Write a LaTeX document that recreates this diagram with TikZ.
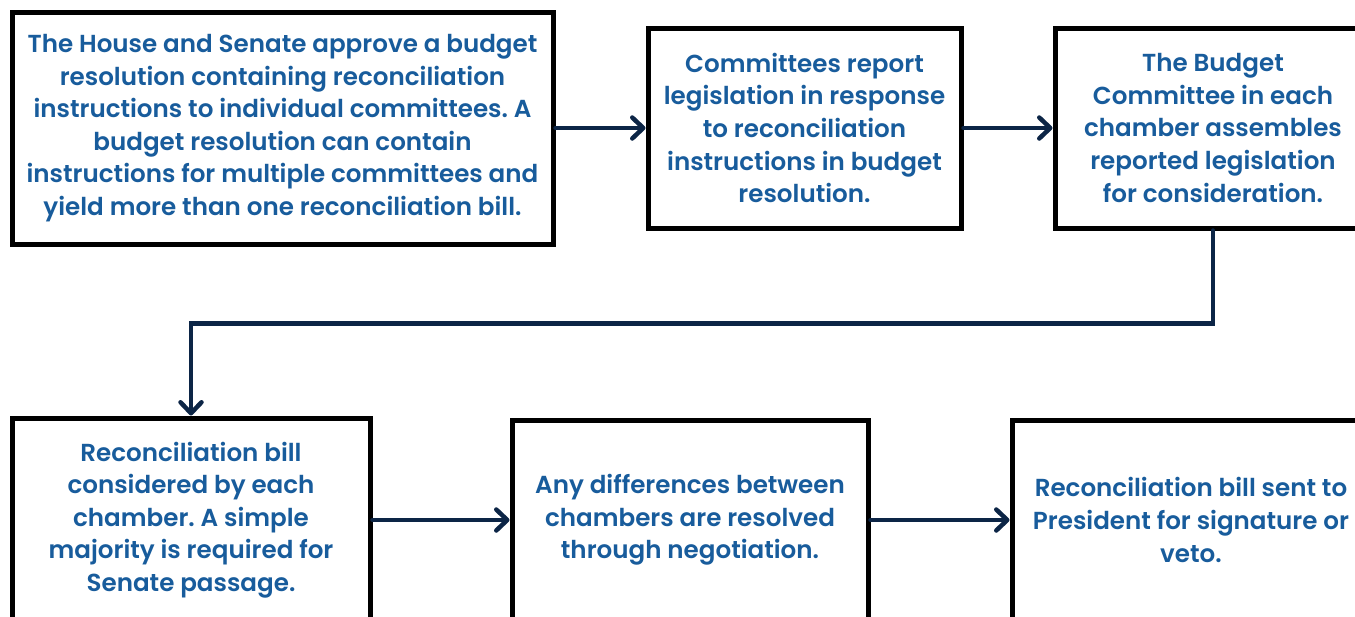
\documentclass[tikz,border=0pt]{standalone}
\usepackage{fontspec}
\setmainfont{Poppins}[UprightFont={* SemiBold}]
\usetikzlibrary{arrows.meta}
\definecolor{stepblue}{RGB}{24,92,156}
\definecolor{flownavy}{RGB}{12,37,70}

\begin{document}
\frenchspacing
\begin{tikzpicture}[x=0.1mm, y=-0.1mm,
	stepbox/.style={draw=black, line width=0.5mm, fill=white, align=center, text=stepblue,
		font=\fontsize{7.0}{9.27}\selectfont, inner sep=0pt},
	flow/.style={draw=flownavy, line width=0.45mm, line cap=round,
		-{Straight Barb[length=1.1mm, width=2.1mm, round]}}]
		%%%%% START %%%%%
		
		\useasboundingbox (0, 0) rectangle (1355, 617);
		\clip (0, 0) rectangle (1355, 617);
		
		\node[stepbox, minimum width=54.1mm, minimum height=23.2mm] (resolution) at (282.5, 128)
			{The House and Senate approve a budget\\ resolution containing reconciliation\\
			instructions to individual committees. A\\ budget resolution can contain\\
			instructions for multiple committees and\\ yield more than one reconciliation bill.};
		\node[stepbox, minimum width=31.3mm, minimum height=20mm] (report) at (804.5, 128)
			{Committees report\\ legislation in response\\ to reconciliation\\
			instructions in budget\\ resolution.};
		\node[stepbox, minimum width=31.6mm, minimum height=20mm] (assemble) at (1213, 128)
			{The Budget\\ Committee in each\\ chamber assembles\\ reported legislation\\
			for consideration.};
		
		\node[stepbox, minimum width=35.8mm, minimum height=20.4mm] (floor) at (191, 520)
			{Reconciliation bill\\ considered by each\\ chamber. A simple\\
			majority is required for\\ Senate passage.};
		\node[stepbox, minimum width=35.6mm, minimum height=20mm] (resolve) at (690, 520)
			{Any differences between\\ chambers are resolved\\ through negotiation.};
		\node[stepbox, minimum width=35.8mm, minimum height=20mm] (president) at (1191, 520)
			{Reconciliation bill sent to\\ President for signature or\\ veto.};
		
		\draw[flow] (resolution.east) -- (report.west);
		\draw[flow] (report.east) -- (assemble.west);
		\draw[flow] (assemble.south) -- ++(0, 93) -| (floor.north);
		\draw[flow] (floor.east) -- (resolve.west);
		\draw[flow] (resolve.east) -- (president.west);
		
		%%%%% END %%%%%
	\end{tikzpicture}
\end{document}
